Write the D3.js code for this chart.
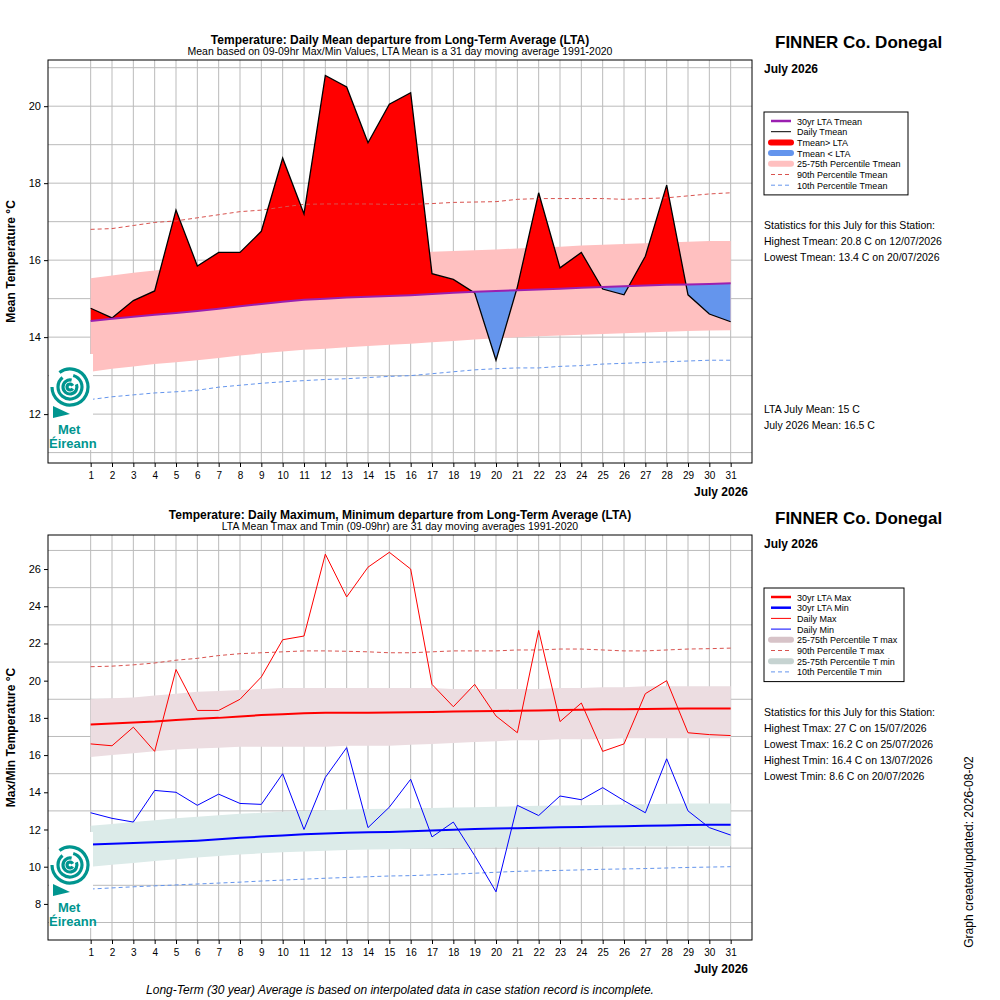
<!DOCTYPE html>
<html><head><meta charset="utf-8">
<script src="https://cdn.jsdelivr.net/npm/d3@7/dist/d3.min.js"></script>
<style>body{margin:0;background:#fff}text{font-family:"Liberation Sans",Arial,sans-serif}</style>
</head><body><svg id="c" width="1000" height="1000"></svg>
<script>
const days = d3.range(1,32);
const tMean = [14.75,14.5,14.95,15.2,17.3,15.85,16.2,16.2,16.75,18.65,17.2,20.8,20.5,19.05,20.05,20.35,15.65,15.5,15.15,13.4,15.3,17.75,15.8,16.2,15.25,15.1,16.1,17.95,15.1,14.6,14.4];
const ltaMean = [14.42,14.48,14.53,14.58,14.63,14.68,14.74,14.8,14.86,14.92,14.97,15.0,15.03,15.05,15.07,15.09,15.12,15.15,15.18,15.2,15.22,15.24,15.26,15.28,15.3,15.32,15.34,15.36,15.37,15.38,15.4];
const p25Mean = [13.1,13.18,13.24,13.3,13.35,13.4,13.46,13.52,13.58,13.63,13.67,13.7,13.74,13.77,13.8,13.83,13.87,13.9,13.94,13.97,14.0,14.02,14.04,14.06,14.08,14.1,14.12,14.14,14.16,14.17,14.18];
const p75Mean = [15.53,15.6,15.67,15.73,15.8,15.86,15.92,15.97,16.02,16.08,16.12,16.15,16.17,16.18,16.19,16.2,16.22,16.24,16.26,16.28,16.3,16.33,16.35,16.38,16.4,16.42,16.44,16.46,16.48,16.5,16.5];
const p90Mean = [16.8,16.82,16.9,16.98,17.02,17.1,17.18,17.26,17.3,17.38,17.45,17.46,17.46,17.46,17.45,17.45,17.47,17.5,17.51,17.52,17.58,17.6,17.6,17.6,17.6,17.58,17.6,17.62,17.67,17.72,17.75];
const p10Mean = [12.38,12.45,12.5,12.55,12.58,12.62,12.7,12.75,12.8,12.84,12.87,12.9,12.92,12.95,12.98,13.0,13.05,13.1,13.15,13.18,13.2,13.2,13.24,13.26,13.3,13.32,13.34,13.36,13.38,13.4,13.4];

const tMax = [16.6,16.5,17.5,16.2,20.6,18.4,18.4,19.0,20.2,22.2,22.4,26.8,24.5,26.1,26.9,26.0,19.8,18.6,19.8,18.1,17.2,22.7,17.8,18.8,16.2,16.6,19.3,20.0,17.2,17.1,17.05];
const tMin = [12.9,12.6,12.4,14.1,14.0,13.3,13.9,13.4,13.35,15.0,12.0,14.8,16.4,12.1,13.2,14.7,11.6,12.4,10.6,8.65,13.3,12.75,13.8,13.6,14.25,13.55,12.9,15.8,13.0,12.1,11.7];
const ltaMax = [17.65,17.7,17.75,17.8,17.88,17.95,18.0,18.08,18.15,18.2,18.25,18.27,18.28,18.28,18.29,18.3,18.32,18.34,18.36,18.37,18.38,18.4,18.42,18.44,18.46,18.47,18.48,18.49,18.5,18.5,18.5];
const ltaMin = [11.2,11.23,11.27,11.31,11.35,11.4,11.47,11.55,11.62,11.68,11.74,11.78,11.82,11.85,11.87,11.9,11.94,11.98,12.02,12.05,12.07,12.1,12.12,12.14,12.16,12.18,12.2,12.22,12.24,12.25,12.26];
const p25Max = [15.9,16.0,16.1,16.2,16.3,16.35,16.4,16.45,16.45,16.45,16.45,16.45,16.5,16.5,16.5,16.55,16.6,16.65,16.7,16.75,16.8,16.8,16.85,16.85,16.85,16.9,16.9,16.9,16.9,16.9,16.9];
const p75Max = [19.0,19.05,19.1,19.2,19.3,19.4,19.45,19.5,19.55,19.6,19.6,19.6,19.6,19.6,19.6,19.6,19.6,19.55,19.55,19.55,19.55,19.55,19.6,19.6,19.65,19.65,19.7,19.7,19.7,19.7,19.7];
const p90Max = [20.75,20.78,20.85,20.95,21.1,21.2,21.35,21.45,21.5,21.55,21.6,21.6,21.58,21.55,21.5,21.5,21.55,21.6,21.6,21.6,21.65,21.65,21.7,21.7,21.65,21.6,21.6,21.65,21.7,21.72,21.75];
const p25Min = [10.0,10.1,10.2,10.3,10.4,10.5,10.58,10.65,10.72,10.78,10.82,10.86,10.9,10.92,10.94,10.96,10.98,11.0,11.02,11.03,11.04,11.05,11.06,11.06,11.07,11.08,11.08,11.09,11.1,11.1,11.1];
const p75Min = [12.2,12.3,12.4,12.5,12.6,12.68,12.76,12.84,12.9,12.96,13.0,13.04,13.08,13.1,13.12,13.14,13.16,13.18,13.2,13.22,13.25,13.27,13.29,13.3,13.32,13.34,13.36,13.38,13.4,13.4,13.4];
const p10Min = [8.8,8.86,8.92,8.97,9.02,9.07,9.12,9.17,9.23,9.28,9.33,9.38,9.42,9.46,9.5,9.52,9.56,9.6,9.65,9.7,9.75,9.78,9.8,9.83,9.86,9.88,9.9,9.93,9.96,9.98,10.0];

const svg = d3.select("#c");
const F = "Liberation Sans, Arial, sans-serif";

function frame(g, y0, y1, yDom, yTicks, gridStep, ylab, title, sub) {
  const x = d3.scaleLinear().domain([-1,32]).range([48,752]);
  const y = d3.scaleLinear().domain(yDom).range([y1,y0]);
  g.append("rect").attr("x",48).attr("y",y0).attr("width",704).attr("height",y1-y0).attr("fill","#fff");
  g.selectAll(".vg").data(days).enter().append("line").attr("x1",d=>x(d)).attr("x2",d=>x(d)).attr("y1",y0).attr("y2",y1).attr("stroke","#bbb").attr("stroke-width",1);
  const hg = d3.range(Math.ceil(yDom[0]), yDom[1], gridStep);
  g.selectAll(".hg").data(hg).enter().append("line").attr("x1",48).attr("x2",752).attr("y1",d=>y(d)).attr("y2",d=>y(d)).attr("stroke","#bbb");
  const xa = g.append("g").attr("transform",`translate(0,${y1})`).call(d3.axisBottom(x).tickValues(days).tickSize(4).tickSizeOuter(0));
  xa.select(".domain").remove();
  xa.selectAll("text").attr("font-size",10).attr("font-family",F).attr("dy","0.9em");
  const ya = g.append("g").attr("transform","translate(48,0)").call(d3.axisLeft(y).tickValues(yTicks).tickSize(4).tickSizeOuter(0));
  ya.select(".domain").remove();
  ya.selectAll("text").attr("font-size",11).attr("font-family",F);
  g.append("text").attr("x",748).attr("y",y1+33).attr("text-anchor","end").attr("font-size",12).attr("font-weight","bold").text("July 2026");
  g.append("text").attr("transform",`translate(15,${(y0+y1)/2}) rotate(-90)`).attr("text-anchor","middle").attr("font-size",12).attr("font-weight","bold").text(ylab);
  g.append("text").attr("x",400).attr("y",y0-16).attr("text-anchor","middle").attr("font-size",12).attr("font-weight","bold").text(title);
  g.append("text").attr("x",400).attr("y",y0-5).attr("text-anchor","middle").attr("font-size",10.5).text(sub);
  return {x,y};
}
function box(g,y0,y1){ g.append("rect").attr("x",48).attr("y",y0).attr("width",704).attr("height",y1-y0).attr("fill","none").attr("stroke","#000"); }
function logo(g, top){
  g.append("rect").attr("x",49).attr("y",top).attr("width",44).attr("height",96).attr("fill","#fff");
  const c = g.append("g").attr("fill","none").attr("stroke","#00958f").attr("stroke-width",3.2);
  const cx=70, cy=top+33;
  [18,12,7,3].forEach((r,i)=>c.append("path").attr("d",d3.arc()({innerRadius:r,outerRadius:r,startAngle:-Math.PI*0.2+i*0.9,endAngle:Math.PI*1.5+i*0.9})).attr("transform",`translate(${cx},${cy})`));
  g.append("path").attr("d",`M53,${top+52} L70,${top+60} L53,${top+64} Z`).attr("fill","#00958f");
  g.append("text").attr("x",58).attr("y",top+80).attr("font-size",13).attr("font-weight","bold").attr("fill","#00958f").text("Met");
  g.append("text").attr("x",49).attr("y",top+94).attr("font-size",13).attr("font-weight","bold").attr("fill","#00958f").text("Éireann");
}
function legend(g, x0, y0, w, items){
  g.append("rect").attr("x",x0).attr("y",y0).attr("width",w).attr("height",items.length*10.7+8).attr("fill","#fff").attr("stroke","#000");
  items.forEach((it,i)=>{
    const yy=y0+9+i*10.7;
    g.append("line").attr("x1",x0+7).attr("x2",x0+27).attr("y1",yy).attr("y2",yy).attr("stroke",it.c).attr("stroke-width",it.w).attr("stroke-dasharray",it.d||null).attr("stroke-linecap",it.w>3?"round":"butt");
    g.append("text").attr("x",x0+33).attr("y",yy+3.5).attr("font-size",9).text(it.t);
  });
}
function rtext(g, x, y, lines, fs){ lines.forEach((t,i)=>g.append("text").attr("x",x).attr("y",y+i*16).attr("font-size",fs||11).text(t)); }

{
  const g = svg.append("g");
  const {x,y} = frame(g,60,463,[10.73,21.2],[12,14,16,18,20],1,"Mean Temperature °C","Temperature: Daily Mean departure from Long-Term Average (LTA)","Mean based on 09-09hr Max/Min Values, LTA Mean is a 31 day moving average 1991-2020");
  const idx = d3.range(31);
  g.append("path").attr("d",d3.area().x(i=>x(days[i])).y0(i=>y(p25Mean[i])).y1(i=>y(p75Mean[i]))(idx)).attr("fill","#ffc0c0");
  const defs = svg.append("defs");
  defs.append("clipPath").attr("id","above").append("path").attr("d",d3.area().x(i=>x(days[i])).y0(60).y1(i=>y(ltaMean[i]))(idx));
  defs.append("clipPath").attr("id","below").append("path").attr("d",d3.area().x(i=>x(days[i])).y0(463).y1(i=>y(ltaMean[i]))(idx));
  const fa = d3.area().x(i=>x(days[i])).y0(i=>y(ltaMean[i])).y1(i=>y(tMean[i]))(idx);
  g.append("path").attr("d",fa).attr("fill","#ff0000").attr("clip-path","url(#above)");
  g.append("path").attr("d",fa).attr("fill","#6495ed").attr("clip-path","url(#below)");
  const ln = arr => d3.line().x(i=>x(days[i])).y(i=>y(arr[i]))(idx);
  g.append("path").attr("d",ln(p90Mean)).attr("fill","none").attr("stroke","#d9534f").attr("stroke-dasharray","4,3");
  g.append("path").attr("d",ln(p10Mean)).attr("fill","none").attr("stroke","#6495ed").attr("stroke-dasharray","4,3");
  g.append("path").attr("d",ln(tMean)).attr("fill","none").attr("stroke","#000").attr("stroke-width",1.3);
  g.append("path").attr("d",ln(ltaMean)).attr("fill","none").attr("stroke","#9b1fb0").attr("stroke-width",2);
  logo(g,354);
  box(g,60,463);
  g.append("text").attr("x",775).attr("y",48).attr("font-size",17).attr("font-weight","bold").text("FINNER Co. Donegal");
  g.append("text").attr("x",764).attr("y",73).attr("font-size",12).attr("font-weight","bold").text("July 2026");
  legend(g,764,112,144,[
    {t:"30yr LTA Tmean",c:"#9b1fb0",w:2.5},{t:"Daily Tmean",c:"#000",w:1},{t:"Tmean> LTA",c:"#ff0000",w:6},
    {t:"Tmean < LTA",c:"#6495ed",w:6},{t:"25-75th Percentile Tmean",c:"#ffc0c0",w:6},
    {t:"90th Percentile Tmean",c:"#d9534f",w:1,d:"4,3"},{t:"10th Percentile Tmean",c:"#6495ed",w:1,d:"4,3"}]);
  rtext(g,764,229,["Statistics for this July for this Station:","Highest Tmean: 20.8 C on 12/07/2026","Lowest Tmean: 13.4 C on 20/07/2026"],10.5);
  rtext(g,764,413,["LTA July Mean: 15 C","July 2026 Mean: 16.5 C"],10.5);
}
{
  const g = svg.append("g");
  const {x,y} = frame(g,535,940,[6.06,27.83],[8,10,12,14,16,18,20,22,24,26],2,"Max/Min Temperature °C","Temperature: Daily Maximum, Minimum departure from Long-Term Average (LTA)","LTA Mean Tmax and Tmin (09-09hr) are 31 day moving averages 1991-2020");
  const idx = d3.range(31);
  const band=(a,b,c)=>g.append("path").attr("d",d3.area().x(i=>x(days[i])).y0(i=>y(a[i])).y1(i=>y(b[i]))(idx)).attr("fill",c);
  band(p25Max,p75Max,"#ecdde1"); band(p25Min,p75Min,"#dcebe9");
  const ln = arr => d3.line().x(i=>x(days[i])).y(i=>y(arr[i]))(idx);
  const pl=(a,c,w,d)=>g.append("path").attr("d",ln(a)).attr("fill","none").attr("stroke",c).attr("stroke-width",w).attr("stroke-dasharray",d||null);
  pl(p90Max,"#d9534f",1,"4,3"); pl(p10Min,"#6495ed",1,"4,3");
  pl(tMax,"#ff0000",1); pl(tMin,"#0000ff",1);
  pl(ltaMax,"#ff0000",2); pl(ltaMin,"#0000ff",2);
  logo(g,832);
  box(g,535,940);
  g.append("text").attr("x",775).attr("y",524).attr("font-size",17).attr("font-weight","bold").text("FINNER Co. Donegal");
  g.append("text").attr("x",764).attr("y",548).attr("font-size",12).attr("font-weight","bold").text("July 2026");
  legend(g,764,588,140,[
    {t:"30yr LTA Max",c:"#ff0000",w:2.5},{t:"30yr LTA Min",c:"#0000ff",w:2.5},{t:"Daily Max",c:"#ff0000",w:1},
    {t:"Daily Min",c:"#0000ff",w:1},{t:"25-75th Percentile T max",c:"#d7c3c8",w:6},
    {t:"90th Percentile T max",c:"#d9534f",w:1,d:"4,3"},{t:"25-75th Percentile T min",c:"#c6d3d1",w:6},
    {t:"10th Percentile T min",c:"#6495ed",w:1,d:"4,3"}]);
  rtext(g,764,716,["Statistics for this July for this Station:","Highest Tmax: 27 C on 15/07/2026","Lowest Tmax: 16.2 C on 25/07/2026","Highest Tmin: 16.4 C on 13/07/2026","Lowest Tmin: 8.6 C on 20/07/2026"],10.5);
  svg.append("text").attr("transform","translate(973,852) rotate(-90)").attr("text-anchor","middle").attr("font-size",12).text("Graph created/updated:  2026-08-02");
  svg.append("text").attr("x",400).attr("y",994).attr("text-anchor","middle").attr("font-size",12).attr("font-style","italic").text("Long-Term (30 year) Average is based on interpolated data in case station record is incomplete.");
}
</script></body></html>
